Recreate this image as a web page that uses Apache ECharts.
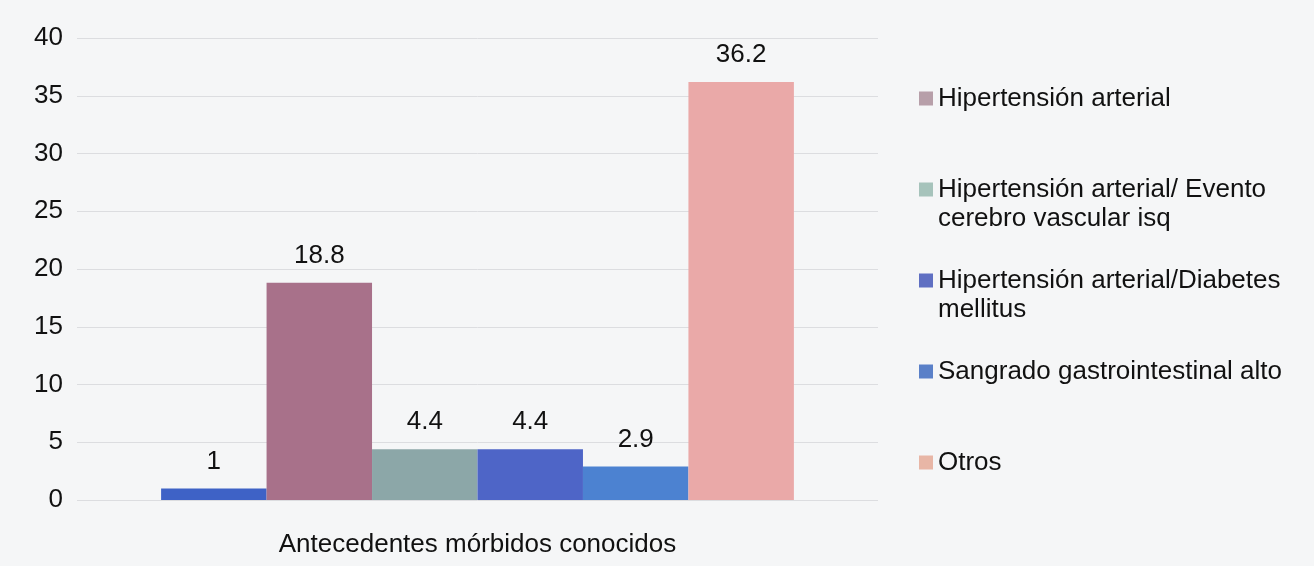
<!DOCTYPE html>
<html>
<head>
<meta charset="utf-8">
<script src="https://cdn.jsdelivr.net/npm/echarts@6/dist/echarts.min.js"></script>
<style>html,body{margin:0;padding:0;background:#f5f6f7;}#c{width:1314px;height:566px;}</style>
</head>
<body>
<div id="c"></div>
<script>
var categories = ['Antecedentes mórbidos conocidos'];
var seriesNames = ['', 'Hipertensión arterial', 'Hipertensión arterial/ Evento cerebro vascular isq', 'Hipertensión arterial/Diabetes mellitus', 'Sangrado gastrointestinal alto', 'Otros'];
var legendNames = ['Hipertensión arterial', 'Hipertensión arterial/ Evento cerebro vascular isq', 'Hipertensión arterial/Diabetes mellitus', 'Sangrado gastrointestinal alto', 'Otros'];
var legendLines = {
  'Hipertensión arterial': ['Hipertensión arterial'],
  'Hipertensión arterial/ Evento cerebro vascular isq': ['Hipertensión arterial/ Evento', 'cerebro vascular isq'],
  'Hipertensión arterial/Diabetes mellitus': ['Hipertensión arterial/Diabetes', 'mellitus'],
  'Sangrado gastrointestinal alto': ['Sangrado gastrointestinal alto'],
  'Otros': ['Otros']
};
var values = [1, 18.8, 4.4, 4.4, 2.9, 36.2];
var colors = ['#3e62c6', '#a8718a', '#8ca7a8', '#4e65c7', '#4c82d1', '#eaa9a8'];
var legendColors = ['#b79fa9', '#a6c3bb', '#5f6fc2', '#5a80c8', '#e8b6a6'];
var yMin = 0, yMax = 40, yInterval = 5;

var font = '"Liberation Sans", Arial, sans-serif';
var fs = 26;
var series = seriesNames.map(function (n, i) {
  return {
    type: 'bar',
    name: n === '' ? 'sin' : n,
    data: [values[i]],
    barGap: '0%',
    barCategoryGap: '21%',
    itemStyle: { color: colors[i] },
    label: {
      show: true, position: 'top', distance: 14,
      color: '#111', fontSize: fs, fontFamily: font
    }
  };
});

var chart = echarts.init(document.getElementById('c'));
chart.setOption({
  backgroundColor: '#f5f6f7',
  animation: false,
  grid: { left: 77, right: 436, top: 38, bottom: 66 },
  xAxis: {
    type: 'category', data: categories,
    axisLine: { show: false }, axisTick: { show: false },
    axisLabel: { color: '#111', fontSize: fs, fontFamily: font, margin: 32 }
  },
  yAxis: {
    type: 'value', min: yMin, max: yMax, interval: yInterval,
    axisLine: { show: false }, axisTick: { show: false },
    axisLabel: { color: '#111', fontSize: fs, fontFamily: font, margin: 14 },
    splitLine: { lineStyle: { color: '#dcdde0', width: 1 } }
  },
  legend: {
    orient: 'vertical', left: 914, top: 50,
    itemWidth: 14, itemHeight: 14, itemGap: 4,
    icon: 'rect',
    data: legendNames.map(function (n, i) {
      return { name: n, itemStyle: { color: legendColors[i] } };
    }),
    formatter: function (name) {
      var l = legendLines[name];
      if (l.length === 1) return ' \n' + l[0] + '\n ';
      return ' \n' + l[0] + '\n' + l[1];
    },
    textStyle: { color: '#111', fontSize: fs, fontFamily: font, lineHeight: 29 }
  },
  series: series
});
</script>
</body>
</html>
